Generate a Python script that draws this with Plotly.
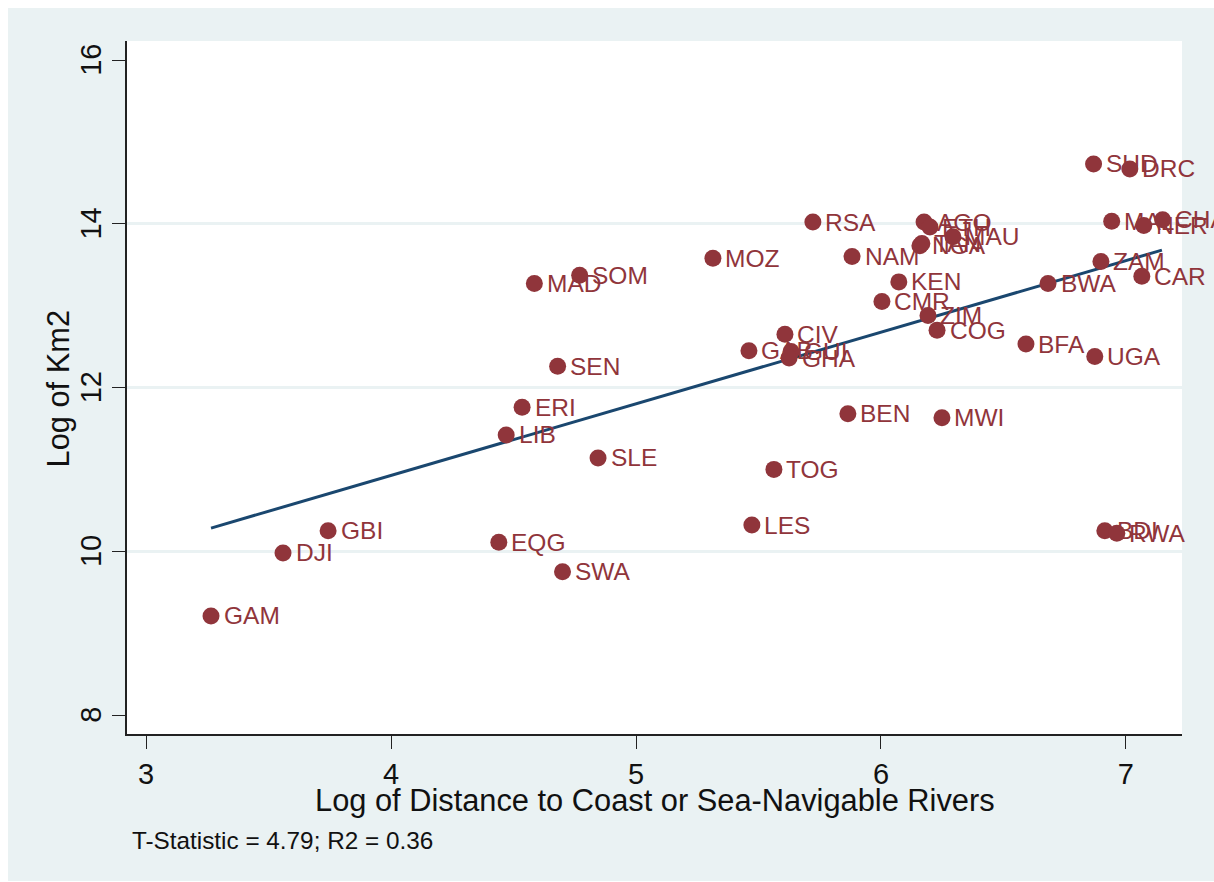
import plotly.graph_objects as go

codes = ["GAM","DJI","GBI","EQG","SWA","LIB","ERI","SEN","SLE","MAD","SOM","MOZ","LES","TOG","GAB","CIV","GUI","GHA","RSA","BEN","NAM","KEN","CMR","AGO","ETH","MAU","NGA","TAN","ZIM","COG","BFA","UGA","MWI","BDI","RWA","SUD","DRC","MAL","CHA","NER","ZAM","BWA","CAR"]
log_distance = [3.265,3.559,3.743,4.44,4.70,4.47,4.535,4.68,4.845,4.585,4.77,5.314,5.473,5.563,5.461,5.608,5.633,5.625,5.722,5.865,5.882,6.073,6.004,6.176,6.20,6.294,6.159,6.167,6.192,6.229,6.592,6.873,6.249,6.914,6.963,6.868,7.016,6.942,7.15,7.073,6.898,6.682,7.065]
log_km2 = [9.21,9.98,10.25,10.11,9.75,11.42,11.76,12.26,11.14,13.27,13.37,13.58,10.32,11.0,12.45,12.65,12.44,12.36,14.02,11.68,13.60,13.29,13.05,14.02,13.96,13.84,13.73,13.76,12.88,12.70,12.53,12.38,11.63,10.25,10.22,14.73,14.67,14.03,14.05,13.98,13.54,13.27,13.36]
fit_x = [3.265, 7.147]
fit_y = [10.283, 13.678]
x_ticks = [3,4,5,6,7]
y_ticks = [8,10,12,14,16]
y_grid = [10,12,14]

BG = "#EAF2F3"
RED = "#90353B"
NAVY = "#1A476F"
INK = "#111111"
FONT = "Liberation Sans"

fig = go.Figure()
fig.add_trace(go.Scatter(x=fit_x, y=fit_y, mode="lines", line=dict(color=NAVY, width=3), showlegend=False))
fig.add_trace(go.Scatter(x=log_distance, y=log_km2, mode="markers", marker=dict(color=RED, size=17), cliponaxis=False, showlegend=False))
for code, xv, yv in zip(codes, log_distance, log_km2):
    fig.add_annotation(x=xv, y=yv, text=code, showarrow=False, xanchor="left", yanchor="middle", xshift=10.5, yshift=0,
                       font=dict(color=RED, size=24.5, family=FONT))

axis_common = dict(showline=True, linecolor="#222222", linewidth=1.5, ticks="outside", ticklen=13, tickwidth=1.3, tickcolor="#222222", zeroline=False, showgrid=False, tickfont=dict(size=29, color=INK, family=FONT))
fig.update_xaxes(range=[2.922,7.229], tickvals=x_ticks, **axis_common)
fig.update_yaxes(range=[7.768,16.232], tickvals=y_ticks, tickangle=-90, ticklabelshift=4,
    minor=dict(tickvals=y_grid, showgrid=True, gridcolor=BG, gridwidth=2.5, ticks=""), **axis_common)

fig.add_annotation(text="Log of Distance to Coast or Sea-Navigable Rivers", xref="paper", yref="paper", x=0.5, y=0, xanchor="center", yanchor="middle",
    yshift=-66, showarrow=False, font=dict(size=30.8, color=INK, family=FONT))
fig.add_annotation(text="Log of Km2", xref="paper", yref="paper", x=0, y=0.5, xanchor="center", yanchor="middle", textangle=-90,
    xshift=-69, yshift=-1, showarrow=False, font=dict(size=30.8, color=INK, family=FONT))
fig.add_annotation(text="T-Statistic = 4.79; R2 = 0.36", xref="paper", yref="paper", x=0, y=0, xanchor="left", yanchor="middle",
    xshift=3, yshift=-106, showarrow=False, font=dict(size=24.3, color=INK, family=FONT))

fig.update_layout(width=1206, height=873, margin=dict(l=119, t=33, r=32, b=147, autoexpand=False), paper_bgcolor=BG, plot_bgcolor="white", showlegend=False)
fig.write_html("out.html", post_script="document.documentElement.style.overflow='hidden';document.body.style.margin='8px 0 0 8px';")
